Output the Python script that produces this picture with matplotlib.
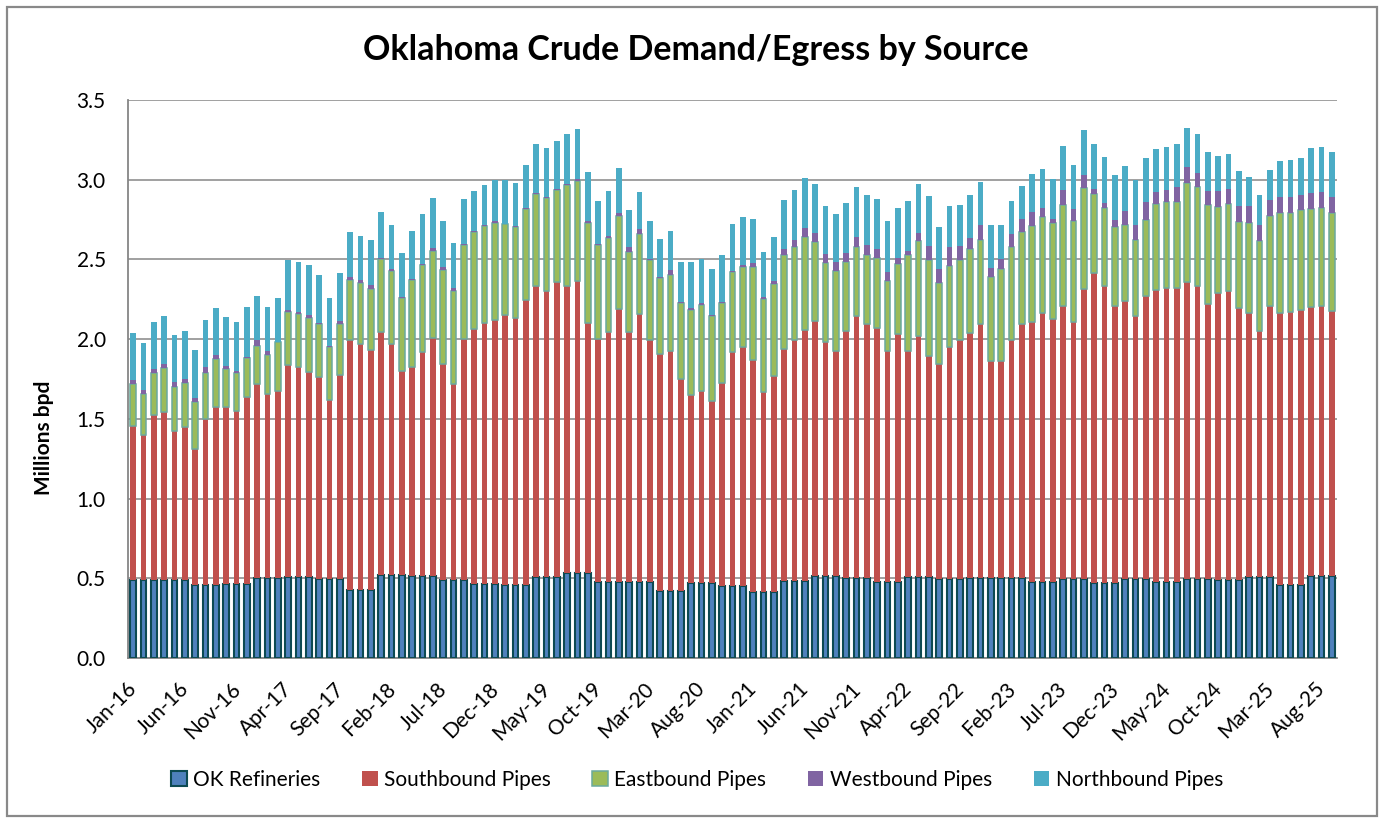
import matplotlib
matplotlib.use("Agg")
import matplotlib.pyplot as plt
import matplotlib.transforms as mtransforms
from matplotlib.patches import Rectangle
import numpy as np
import pandas as pd

plt.rcParams['font.family'] = ['Lato', 'DejaVu Sans']

# Monthly categories Jan-16 .. Sep-25
months = pd.date_range("2016-01-01", "2025-09-01", freq="MS")
month_labels = [d.strftime("%b-%y") for d in months]
tick_every = 5

# Millions bpd
ok_refineries = [
    0.49, 0.49, 0.49, 0.49, 0.49, 0.49, 0.456, 0.456, 0.456, 0.462, 0.462, 0.462,
    0.50, 0.50, 0.50, 0.506, 0.506, 0.506, 0.494, 0.494, 0.494, 0.427, 0.427, 0.427,
    0.519, 0.519, 0.519, 0.512, 0.512, 0.512, 0.49, 0.49, 0.49, 0.462, 0.462, 0.462,
    0.456, 0.456, 0.456, 0.506, 0.506, 0.506, 0.531, 0.531, 0.531, 0.477, 0.477, 0.477,
    0.477, 0.477, 0.477, 0.418, 0.418, 0.418, 0.469, 0.469, 0.469, 0.45, 0.45, 0.45,
    0.412, 0.412, 0.412, 0.481, 0.481, 0.481, 0.512, 0.512, 0.512, 0.50, 0.50, 0.50,
    0.477, 0.477, 0.477, 0.506, 0.506, 0.506, 0.494, 0.494, 0.494, 0.50, 0.50, 0.50,
    0.50, 0.50, 0.50, 0.475, 0.475, 0.475, 0.494, 0.494, 0.494, 0.469, 0.469, 0.469,
    0.494, 0.494, 0.494, 0.475, 0.475, 0.475, 0.494, 0.494, 0.494, 0.49, 0.49, 0.49,
    0.506, 0.506, 0.506, 0.456, 0.456, 0.456, 0.512, 0.512, 0.512,
]
southbound = [
    0.968, 0.906, 1.037, 1.050, 0.931, 0.956, 0.852, 1.040, 1.121, 1.115, 1.090, 1.178,
    1.221, 1.158, 1.177, 1.334, 1.321, 1.290, 1.271, 1.127, 1.283, 1.565, 1.544, 1.506,
    1.527, 1.452, 1.283, 1.315, 1.409, 1.496, 1.356, 1.231, 1.512, 1.603, 1.640, 1.659,
    1.696, 1.677, 1.790, 1.827, 1.796, 1.852, 1.802, 1.834, 1.571, 1.525, 1.569, 1.713,
    1.569, 1.681, 1.519, 1.490, 1.509, 1.334, 1.183, 1.208, 1.146, 1.277, 1.471, 1.502,
    1.459, 1.259, 1.359, 1.459, 1.511, 1.577, 1.603, 1.471, 1.415, 1.552, 1.646, 1.596,
    1.594, 1.450, 1.556, 1.421, 1.515, 1.390, 1.352, 1.458, 1.498, 1.540, 1.596, 1.365,
    1.365, 1.496, 1.596, 1.633, 1.690, 1.652, 1.714, 1.614, 1.821, 1.946, 1.864, 1.739,
    1.746, 1.652, 1.777, 1.833, 1.846, 1.846, 1.864, 1.839, 1.727, 1.800, 1.812, 1.706,
    1.659, 1.546, 1.702, 1.709, 1.715, 1.727, 1.690, 1.696, 1.665,
]
eastbound = [
    0.259, 0.258, 0.258, 0.277, 0.277, 0.277, 0.296, 0.294, 0.296, 0.233, 0.233, 0.239,
    0.239, 0.240, 0.302, 0.333, 0.331, 0.339, 0.327, 0.327, 0.321, 0.381, 0.383, 0.384,
    0.454, 0.456, 0.456, 0.544, 0.544, 0.544, 0.587, 0.581, 0.588, 0.606, 0.606, 0.606,
    0.569, 0.569, 0.569, 0.575, 0.581, 0.575, 0.632, 0.629, 0.625, 0.588, 0.587, 0.581,
    0.500, 0.500, 0.500, 0.475, 0.475, 0.475, 0.531, 0.538, 0.531, 0.500, 0.500, 0.500,
    0.579, 0.581, 0.575, 0.587, 0.585, 0.582, 0.493, 0.494, 0.500, 0.431, 0.431, 0.431,
    0.437, 0.438, 0.438, 0.600, 0.594, 0.598, 0.506, 0.506, 0.504, 0.525, 0.525, 0.525,
    0.575, 0.581, 0.575, 0.600, 0.600, 0.600, 0.632, 0.632, 0.631, 0.493, 0.490, 0.494,
    0.475, 0.475, 0.475, 0.538, 0.537, 0.537, 0.619, 0.619, 0.619, 0.537, 0.544, 0.537,
    0.562, 0.563, 0.563, 0.625, 0.619, 0.625, 0.613, 0.613, 0.613,
]
westbound = [
    0.027, 0.027, 0.028, 0.027, 0.035, 0.029, 0.027, 0.035, 0.027, 0.021, 0.015, 0.011,
    0.034, 0.027, 0.004, 0.010, 0.011, 0.015, 0.008, 0.010, 0.015, 0.015, 0.015, 0.021,
    0.010, 0.011, 0.005, 0.004, 0.006, 0.017, 0.017, 0.017, 0.004, 0.006, 0.007, 0.013,
    0.004, 0.006, 0.006, 0.007, 0.009, 0.007, 0.008, 0.008, 0.011, 0.004, 0.017, 0.023,
    0.029, 0.030, 0.006, 0.005, 0.029, 0.006, 0.013, 0.010, 0.004, 0.006, 0.006, 0.011,
    0.027, 0.011, 0.019, 0.036, 0.048, 0.054, 0.055, 0.056, 0.056, 0.056, 0.063, 0.063,
    0.057, 0.056, 0.037, 0.029, 0.050, 0.089, 0.088, 0.119, 0.087, 0.068, 0.094, 0.056,
    0.062, 0.081, 0.081, 0.088, 0.056, 0.029, 0.093, 0.075, 0.081, 0.032, 0.029, 0.044,
    0.087, 0.094, 0.112, 0.075, 0.075, 0.094, 0.100, 0.088, 0.087, 0.100, 0.094, 0.100,
    0.106, 0.100, 0.100, 0.100, 0.100, 0.094, 0.100, 0.100, 0.100,
]
northbound = [
    0.294, 0.294, 0.293, 0.300, 0.292, 0.298, 0.300, 0.294, 0.294, 0.307, 0.306, 0.310,
    0.275, 0.275, 0.273, 0.311, 0.312, 0.313, 0.300, 0.298, 0.300, 0.281, 0.281, 0.281,
    0.290, 0.281, 0.275, 0.306, 0.317, 0.319, 0.288, 0.287, 0.287, 0.254, 0.254, 0.260,
    0.275, 0.273, 0.273, 0.310, 0.308, 0.304, 0.315, 0.317, 0.312, 0.275, 0.281, 0.281,
    0.238, 0.237, 0.236, 0.243, 0.250, 0.248, 0.285, 0.277, 0.288, 0.292, 0.298, 0.306,
    0.279, 0.281, 0.273, 0.312, 0.313, 0.319, 0.312, 0.305, 0.305, 0.317, 0.316, 0.316,
    0.316, 0.317, 0.317, 0.313, 0.310, 0.317, 0.266, 0.261, 0.261, 0.273, 0.273, 0.273,
    0.211, 0.211, 0.211, 0.242, 0.248, 0.248, 0.280, 0.279, 0.286, 0.285, 0.292, 0.285,
    0.286, 0.285, 0.280, 0.273, 0.273, 0.273, 0.248, 0.248, 0.248, 0.223, 0.223, 0.223,
    0.186, 0.191, 0.192, 0.229, 0.235, 0.236, 0.285, 0.285, 0.285,
]

series_names = ["OK Refineries", "Southbound Pipes", "Eastbound Pipes",
                "Westbound Pipes", "Northbound Pipes"]
y_ticks = [0.0, 0.5, 1.0, 1.5, 2.0, 2.5, 3.0, 3.5]

W, H = 1384, 824
fig = plt.figure(figsize=(W / 100, H / 100), dpi=100)
ax = fig.add_axes([128 / W, 1 - 658 / H, (1337 - 128) / W, (658 - 100) / H])

x = np.arange(len(month_labels))
bw = 0.56
grid_c = "#868686"
fs = 15

bottom = np.zeros(len(x))
styles = [
    dict(color="#4F81BD", edgecolor="#0D4A52", linewidth=1.5),
    dict(color="#C0504D", edgecolor="none", linewidth=0),
    dict(color="#9BBB59", edgecolor="#6AAA9E", linewidth=1.1),
    dict(color="#8064A2", edgecolor="none", linewidth=0),
    dict(color="#4BACC6", edgecolor="none", linewidth=0),
]
handles = []
for name, vals, st in zip(series_names,
                          [ok_refineries, southbound, eastbound, westbound, northbound],
                          styles):
    v = np.array(vals)
    b = ax.bar(x, v, bw, bottom=bottom, label=name, zorder=3, **st)
    handles.append(b)
    bottom = bottom + v

ax.set_xlim(-0.5, len(x) - 0.5)
ax.set_ylim(0, 3.5)
ax.set_yticks(y_ticks)
ax.set_yticklabels([f"{t:.1f}" for t in y_ticks], fontsize=fs)
ax.yaxis.grid(True, color=grid_c, linewidth=1.1, zorder=0)
ax.set_axisbelow(True)
ax.tick_params(axis="y", length=0, pad=16)
ax.tick_params(axis="x", length=0, pad=15)

ticks = x[::tick_every]
ax.set_xticks(ticks)
ax.set_xticklabels([month_labels[i] for i in ticks], rotation=45, ha="right",
                   va="top", fontsize=fs)
offset = mtransforms.ScaledTranslation(8 / 100, 0, fig.dpi_scale_trans)
for lbl in ax.get_xticklabels():
    lbl.set_transform(lbl.get_transform() + offset)

for s in ["top", "right"]:
    ax.spines[s].set_visible(False)
for s in ["left", "bottom"]:
    ax.spines[s].set_color(grid_c)
    ax.spines[s].set_linewidth(1.3)

ax.set_ylabel("Millions bpd", fontsize=fs, fontweight="bold")
ax.yaxis.set_label_coords((54 - 128) / (1337 - 128), (658 - 438) / (658 - 100))

fig.text(696 / W, 1 - 50 / H, "Oklahoma Crude Demand/Egress by Source",
         ha="center", va="center", fontsize=24.5, fontweight="bold")

fig.legend(handles=handles, loc="center", bbox_to_anchor=(697 / W, 1 - 780 / H),
           ncol=5, frameon=False, fontsize=fs, handlelength=0.75, handleheight=0.75,
           handletextpad=0.3, columnspacing=2.0)

fig.patches.append(Rectangle((7 / W, 1 - 816 / H), (1377 - 7) / W, (816 - 7) / H,
                             transform=fig.transFigure, fill=False,
                             edgecolor="#898989", linewidth=1.6))

fig.savefig("out.png", dpi=100, facecolor="white")
